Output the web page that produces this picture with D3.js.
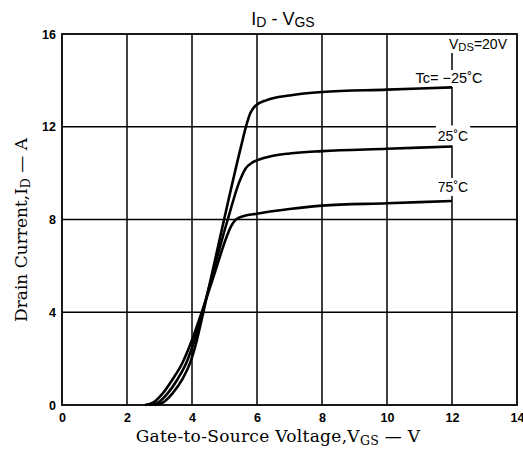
<!DOCTYPE html>
<html><head><meta charset="utf-8">
<script src="https://cdn.jsdelivr.net/npm/d3@7"></script>
<style>body{margin:0;background:#fff}svg{display:block}</style>
</head><body><svg id="c" width="523" height="455"></svg>
<script>
const xTicks = [0, 2, 4, 6, 8, 10, 12, 14];
const yTicks = [0, 4, 8, 12, 16];
const seriesNames = ["Tc= \u221225\u02DAC", "25\u02DAC", "75\u02DAC"];
const curveM25 = [[2.85,0],[3.1,0.1],[3.4,0.5],[3.7,1.1],[3.95,1.85],[4.15,2.8],[4.3,3.7],[4.7,6.2],[5.1,8.7],[5.5,11.1],[5.7,12.2],[5.8,12.6],[5.95,12.9],[6.3,13.15],[7,13.35],[8,13.5],[10,13.6],[12,13.7]];
const curve25 = [[2.7,0],[2.95,0.1],[3.25,0.5],[3.55,1.1],[3.85,1.9],[4.1,2.9],[4.3,3.9],[4.7,6.0],[5.1,8.0],[5.45,9.6],[5.65,10.2],[5.85,10.45],[6,10.55],[6.5,10.75],[7,10.85],[8,10.95],[10,11.05],[12,11.15]];
const curve75 = [[2.55,0],[2.8,0.1],[3.1,0.5],[3.4,1.1],[3.7,1.8],[4.0,2.8],[4.3,4.0],[4.7,5.7],[5.0,7.0],[5.2,7.7],[5.35,8.0],[5.6,8.15],[6,8.25],[7,8.45],[8,8.6],[10,8.7],[12,8.8]];
const curves = [curveM25, curve25, curve75];

const svg = d3.select("#c");
const x = d3.scaleLinear().domain([0,14]).range([62,517]);
const y = d3.scaleLinear().domain([0,16]).range([405,34]);

const g = svg.append("g");
g.selectAll("line.v").data(xTicks.slice(1,-1)).enter().append("line")
  .attr("x1",d=>x(d)).attr("x2",d=>x(d)).attr("y1",y(0)).attr("y2",y(16))
  .attr("stroke","#000").attr("stroke-width",1.5);
g.selectAll("line.h").data(yTicks.slice(1,-1)).enter().append("line")
  .attr("x1",x(0)).attr("x2",x(14)).attr("y1",d=>y(d)).attr("y2",d=>y(d))
  .attr("stroke","#000").attr("stroke-width",1.5);

const xa = d3.axisBottom(x).tickValues(xTicks).tickSize(0).tickPadding(8);
const xg = svg.append("g").attr("transform",`translate(0,${y(0)})`).call(xa);
const ya = d3.axisLeft(y).tickValues(yTicks).tickSize(0).tickPadding(6);
const yg = svg.append("g").attr("transform",`translate(${x(0)},0)`).call(ya);
[xg,yg].forEach(a=>{a.select(".domain").remove();
  a.selectAll("text").attr("font-family","Liberation Sans, Arial, sans-serif").attr("font-weight","bold").attr("font-size",12.5).attr("fill","#000");});

const lab = svg.append("g");
function label(cx, by, size, parts, padTop, padBot){
  const t = lab.append("text").attr("x",cx).attr("y",by).attr("text-anchor","middle")
    .attr("font-family","Liberation Sans, Arial, sans-serif").attr("font-size",size).attr("fill","#000");
  parts.forEach(p=>{ const s=t.append("tspan").text(p[0]); if(p[2]) s.attr("font-size",size*0.8); if(p[1]) s.attr("dy",p[1]);});
  const b = t.node().getBBox();
  lab.insert("rect",()=>t.node()).attr("x",b.x-2).attr("y",b.y-padTop).attr("width",b.width+4).attr("height",b.height+padTop+padBot).attr("fill","#fff");
  return t;
}
const x12 = x(12);
label(478, 49, 14, [["V",0,false],["DS",2,true],["=20V",-2,false]], 4, 0);
label(449, 83, 14.5, [[seriesNames[0],0,false]], 0, 1);
label(x12+1, y(curve25[curve25.length-1][1]) - 5, 14, [[seriesNames[1],0,false]], 3, 1);
label(x12+1, y(curve75[curve75.length-1][1]) - 9, 14, [[seriesNames[2],0,false]], 1, 1);

const line = d3.line().x(d=>x(d[0])).y(d=>y(d[1])).curve(d3.curveMonotoneX);
svg.selectAll("path.c").data(curves).enter().append("path")
  .attr("d",line).attr("fill","none").attr("stroke","#000").attr("stroke-width",2.6).attr("stroke-linejoin","round");

svg.append("rect").attr("x",x(0)).attr("y",y(16)).attr("width",x(14)-x(0)).attr("height",y(0)-y(16))
  .attr("fill","none").attr("stroke","#000").attr("stroke-width",1.8);

const tt = svg.append("text").attr("x",283).attr("y",25).attr("text-anchor","middle")
  .attr("font-family","Liberation Sans, Arial, sans-serif").attr("font-size",18).attr("fill","#000");
tt.append("tspan").text("I");
tt.append("tspan").text("D").attr("font-size",14).attr("dy",2);
tt.append("tspan").text(" - V").attr("dy",-2);
tt.append("tspan").text("GS").attr("font-size",14).attr("dy",2);

const xt = svg.append("text").attr("x",278).attr("y",442).attr("text-anchor","middle")
  .attr("font-family","DejaVu Serif, Liberation Serif, serif").attr("font-size",17).attr("letter-spacing",0.3).attr("fill","#000");
xt.append("tspan").text("Gate-to-Source Voltage,V");
xt.append("tspan").text("GS").attr("font-size",12.5).attr("dy",3);
xt.append("tspan").text(" \u2014 V").attr("dy",-3);

const yt = svg.append("text").attr("transform","translate(27,230) rotate(-90)").attr("text-anchor","middle")
  .attr("font-family","DejaVu Serif, Liberation Serif, serif").attr("font-size",17).attr("fill","#000");
yt.append("tspan").text("Drain Current,I");
yt.append("tspan").text("D").attr("font-size",12.5).attr("dy",3);
yt.append("tspan").text(" \u2014 A").attr("dy",-3);
</script></body></html>
